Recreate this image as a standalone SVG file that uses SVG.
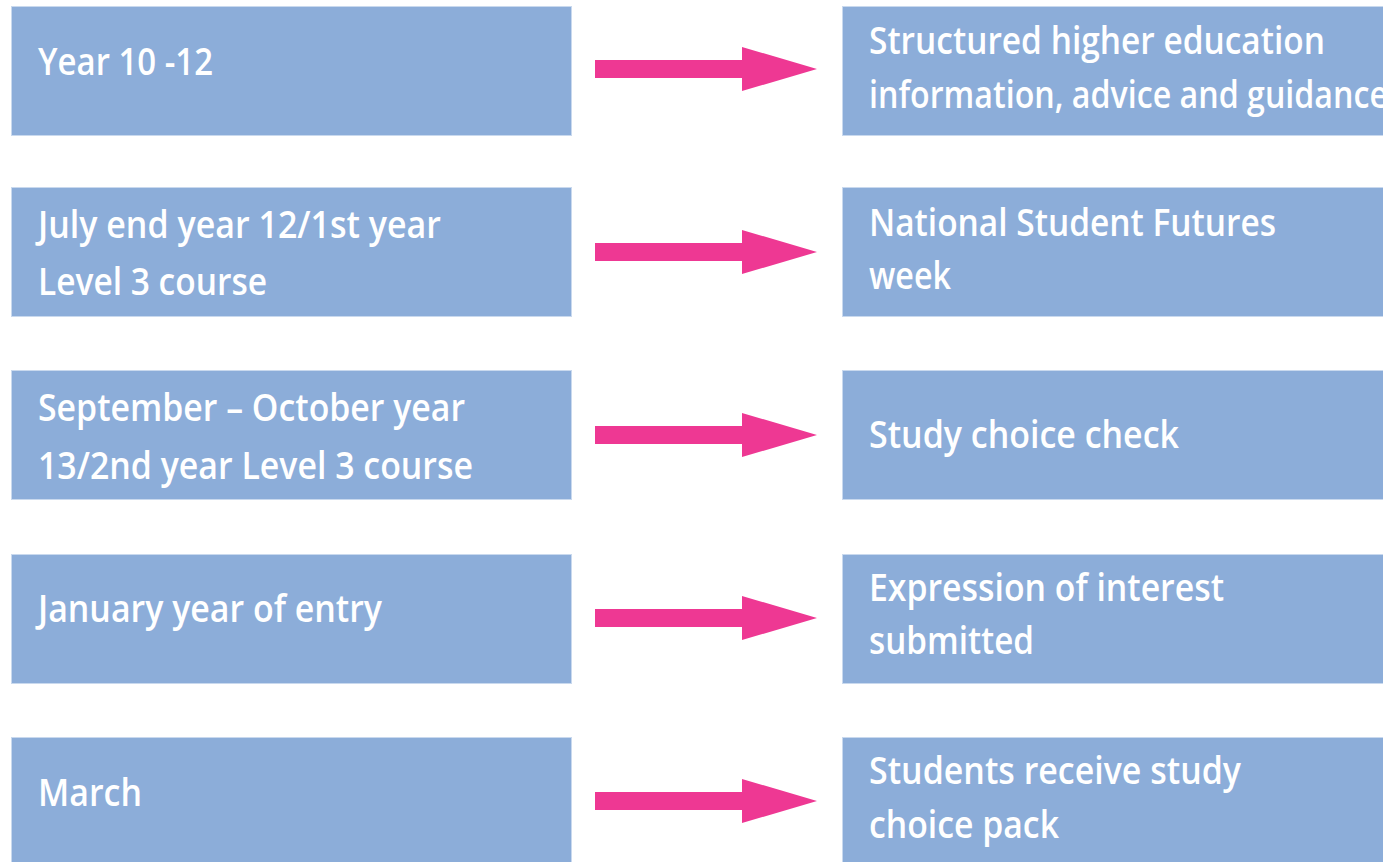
<svg xmlns="http://www.w3.org/2000/svg" width="1383" height="862" viewBox="0 0 1383 862">
  <style>
    .box { fill: #8CADD9; stroke: #C9D9EE; stroke-width: 1; }
    .label { fill: #FFFFFF; font-family: "Open Sans", "Liberation Sans", sans-serif; font-weight: 600; font-size: 38px; }
    .arrow { fill: #EE3893; }
  </style>
  <defs>
    <path id="arrowShape" d="M 0 -9 L 147 -9 L 147 -22 L 222 0 L 147 22 L 147 9 L 0 9 Z"/>
  </defs>
  <rect width="1383" height="862" fill="#FFFFFF"/>

  <!-- row 1 -->
  <g id="node-year10-12">
    <rect class="box" x="11.5" y="6.5" width="560" height="129"/>
    <text class="label" x="38" y="75" textLength="175" lengthAdjust="spacingAndGlyphs">Year 10 -12</text>
  </g>
  <g id="node-structured-iag">
    <rect class="box" x="842.5" y="6.5" width="560" height="129"/>
    <text class="label" x="869" y="54" textLength="456" lengthAdjust="spacingAndGlyphs">Structured higher education</text>
    <text class="label" x="869" y="108" textLength="519" lengthAdjust="spacingAndGlyphs">information, advice and guidance</text>
  </g>

  <!-- row 2 -->
  <g id="node-july-end-year12">
    <rect class="box" x="11.5" y="187.5" width="560" height="129"/>
    <text class="label" x="38" y="238" textLength="403" lengthAdjust="spacingAndGlyphs">July end year 12/1st year</text>
    <text class="label" x="38" y="295" textLength="229" lengthAdjust="spacingAndGlyphs">Level 3 course</text>
  </g>
  <g id="node-futures-week">
    <rect class="box" x="842.5" y="187.5" width="560" height="129"/>
    <text class="label" x="869" y="236" textLength="407" lengthAdjust="spacingAndGlyphs">National Student Futures</text>
    <text class="label" x="869" y="289" textLength="82" lengthAdjust="spacingAndGlyphs">week</text>
  </g>

  <!-- row 3 -->
  <g id="node-sep-oct-year13">
    <rect class="box" x="11.5" y="370.5" width="560" height="129"/>
    <text class="label" x="38" y="421" textLength="427" lengthAdjust="spacingAndGlyphs">September – October year</text>
    <text class="label" x="38" y="479" textLength="435" lengthAdjust="spacingAndGlyphs">13/2nd year Level 3 course</text>
  </g>
  <g id="node-study-choice-check">
    <rect class="box" x="842.5" y="370.5" width="560" height="129"/>
    <text class="label" x="869" y="448" textLength="310" lengthAdjust="spacingAndGlyphs">Study choice check</text>
  </g>

  <!-- row 4 -->
  <g id="node-january">
    <rect class="box" x="11.5" y="554.5" width="560" height="129"/>
    <text class="label" x="38" y="622" textLength="344" lengthAdjust="spacingAndGlyphs">January year of entry</text>
  </g>
  <g id="node-expression-of-interest">
    <rect class="box" x="842.5" y="554.5" width="560" height="129"/>
    <text class="label" x="869" y="601" textLength="355" lengthAdjust="spacingAndGlyphs">Expression of interest</text>
    <text class="label" x="869" y="654" textLength="165" lengthAdjust="spacingAndGlyphs">submitted</text>
  </g>

  <!-- row 5 -->
  <g id="node-march">
    <rect class="box" x="11.5" y="737.5" width="560" height="129"/>
    <text class="label" x="38" y="806" textLength="104" lengthAdjust="spacingAndGlyphs">March</text>
  </g>
  <g id="node-study-choice-pack">
    <rect class="box" x="842.5" y="737.5" width="560" height="129"/>
    <text class="label" x="869" y="784" textLength="372" lengthAdjust="spacingAndGlyphs">Students receive study</text>
    <text class="label" x="869" y="838" textLength="190" lengthAdjust="spacingAndGlyphs">choice pack</text>
  </g>

  <!-- connectors: block arrows from each date to its activity -->
  <g id="connectors">
    <use href="#arrowShape" class="arrow" transform="translate(595,69)"/>
    <use href="#arrowShape" class="arrow" transform="translate(595,252)"/>
    <use href="#arrowShape" class="arrow" transform="translate(595,435)"/>
    <use href="#arrowShape" class="arrow" transform="translate(595,618)"/>
    <use href="#arrowShape" class="arrow" transform="translate(595,801)"/>
  </g>
</svg>
